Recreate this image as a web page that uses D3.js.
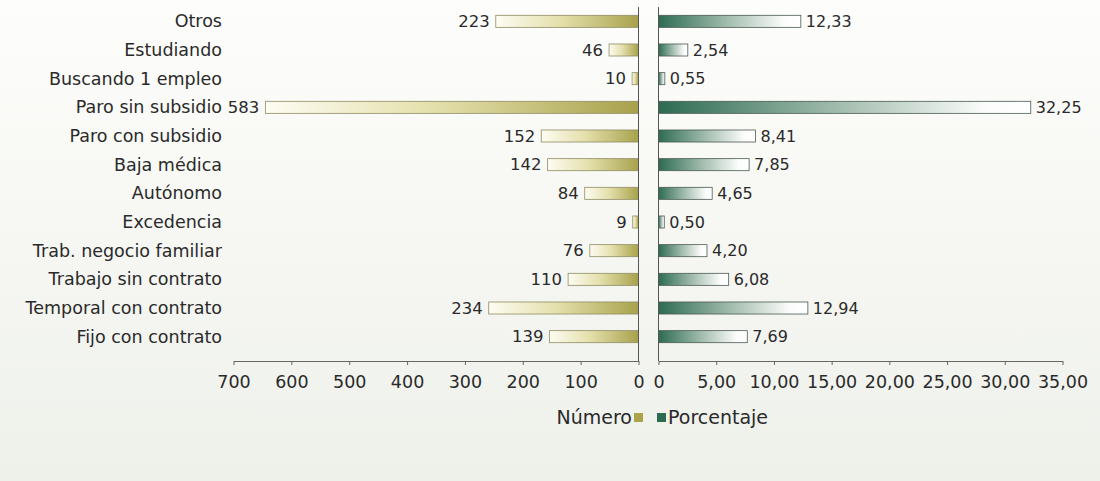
<!DOCTYPE html>
<html>
<head>
<meta charset="utf-8">
<script src="https://cdn.jsdelivr.net/npm/d3@7"></script>
<style>
  html, body { margin: 0; padding: 0; }
  body { width: 1100px; height: 481px; overflow: hidden; }
  svg text { font-family: 'DejaVu Sans', sans-serif; fill: #2a2a2a; }
</style>
</head>
<body>
<div id="chart"></div>
<script>
// categories, top to bottom
let categorias = ['Otros', 'Estudiando', 'Buscando 1 empleo', 'Paro sin subsidio', 'Paro con subsidio',
  'Baja médica', 'Autónomo', 'Excedencia', 'Trab. negocio familiar', 'Trabajo sin contrato',
  'Temporal con contrato', 'Fijo con contrato']

let numero = [223, 46, 10, 583, 152, 142, 84, 9, 76, 110, 234, 139]

let porcentaje = [12.33, 2.54, 0.55, 32.25, 8.41, 7.85, 4.65, 0.50, 4.20, 6.08, 12.94, 7.69]

let ticksNumero = [700, 600, 500, 400, 300, 200, 100, 0]
let ticksPorcentaje = [0, 5, 10, 15, 20, 25, 30, 35]

let width = 1100
let height = 481

let svg = d3
  .select('#chart')
  .append('svg')
  .attr('width', width)
  .attr('height', height)

let defs = svg.append('defs')

var bg = defs.append('linearGradient').attr('id', 'bg').attr('x1', 0).attr('y1', 0).attr('x2', 0).attr('y2', 1)
bg.append('stop').attr('offset', '0%').attr('stop-color', '#fdfdfb')
bg.append('stop').attr('offset', '45%').attr('stop-color', '#f7f8f4')
bg.append('stop').attr('offset', '100%').attr('stop-color', '#eef0ea')

var gOlive = defs.append('linearGradient').attr('id', 'olive')
gOlive.append('stop').attr('offset', '0%').attr('stop-color', '#fdfcf2')
gOlive.append('stop').attr('offset', '45%').attr('stop-color', '#e4e0ac')
gOlive.append('stop').attr('offset', '100%').attr('stop-color', '#a8a24c')

var gGreen = defs.append('linearGradient').attr('id', 'green')
gGreen.append('stop').attr('offset', '0%').attr('stop-color', '#2d6b52')
gGreen.append('stop').attr('offset', '50%').attr('stop-color', '#a6bfb1')
gGreen.append('stop').attr('offset', '88%').attr('stop-color', '#fbfcfb')
gGreen.append('stop').attr('offset', '100%').attr('stop-color', '#ffffff')

svg.append('rect').attr('width', width).attr('height', height).attr('fill', 'url(#bg)')

let rows = categorias.map(function(c, i) {
  return { cat: c, n: numero[i], pct: porcentaje[i] }
})

var yScale = d3.scaleBand()
  .domain(categorias)
  .range([7, 351])
  .paddingInner(0.58)
  .paddingOuter(0.29)

// left axis is labelled 0-700, right axis 0-35
var xNumAxis = d3.scaleLinear().domain([0, 700]).range([638.5, 233.5])
var xPct = d3.scaleLinear().domain([0, 35]).range([658.5, 1062.5])

// in the original the count bars mirror the percentage bars (same px per share of total)
var total = d3.sum(numero)
var xNumBar = d3.scaleLinear().domain([0, total * 35 / 100]).range([638.5, 233.5])

let axisY = 361

// category labels
svg.append('g')
  .selectAll('text')
  .data(rows)
  .enter()
  .append('text')
  .attr('x', 222)
  .attr('y', d => yScale(d.cat) + yScale.bandwidth() / 2)
  .attr('dy', '0.35em')
  .attr('text-anchor', 'end')
  .attr('font-size', 17.5)
  .text(d => d.cat)

// count bars
svg.append('g')
  .selectAll('rect')
  .data(rows)
  .enter()
  .append('rect')
  .attr('x', d => xNumBar(d.n))
  .attr('y', d => yScale(d.cat))
  .attr('width', d => xNumBar(0) - xNumBar(d.n))
  .attr('height', yScale.bandwidth())
  .attr('fill', 'url(#olive)')
  .attr('stroke', '#8f8c62')
  .attr('stroke-width', 0.8)

svg.append('g')
  .selectAll('text')
  .data(rows)
  .enter()
  .append('text')
  .attr('x', d => xNumBar(d.n) - 6)
  .attr('y', d => yScale(d.cat) + yScale.bandwidth() / 2)
  .attr('dy', '0.35em')
  .attr('text-anchor', 'end')
  .attr('font-size', 16.5)
  .text(d => d.n)

// percentage bars
svg.append('g')
  .selectAll('rect')
  .data(rows)
  .enter()
  .append('rect')
  .attr('x', xPct(0))
  .attr('y', d => yScale(d.cat))
  .attr('width', d => xPct(d.pct) - xPct(0))
  .attr('height', yScale.bandwidth())
  .attr('fill', 'url(#green)')
  .attr('stroke', '#4a5a52')
  .attr('stroke-width', 0.8)

var fmtPct = function(v) { return d3.format('.2f')(v).replace('.', ',') }

svg.append('g')
  .selectAll('text')
  .data(rows)
  .enter()
  .append('text')
  .attr('x', d => xPct(d.pct) + 5)
  .attr('y', d => yScale(d.cat) + yScale.bandwidth() / 2)
  .attr('dy', '0.35em')
  .attr('font-size', 16)
  .text(d => fmtPct(d.pct))

// vertical zero lines
svg.append('line')
  .attr('x1', xNumAxis(0)).attr('x2', xNumAxis(0))
  .attr('y1', 7).attr('y2', axisY)
  .attr('stroke', '#555').attr('stroke-width', 1)

svg.append('line')
  .attr('x1', xPct(0)).attr('x2', xPct(0))
  .attr('y1', 7).attr('y2', axisY)
  .attr('stroke', '#555').attr('stroke-width', 1)

// bottom axes
var leftAxis = d3.axisBottom(xNumAxis)
  .tickValues(ticksNumero)
  .tickSize(4)
  .tickSizeOuter(0)
  .tickPadding(11)

var rightAxis = d3.axisBottom(xPct)
  .tickValues(ticksPorcentaje)
  .tickSize(4)
  .tickSizeOuter(0)
  .tickPadding(11)
  .tickFormat(function(d) { return d === 0 ? '0' : fmtPct(d) })

svg.append('g')
  .attr('class', 'axis')
  .attr('transform', 'translate(0,' + axisY + ')')
  .call(leftAxis)

svg.append('g')
  .attr('class', 'axis')
  .attr('transform', 'translate(0,' + axisY + ')')
  .call(rightAxis)

svg.selectAll('.axis path').attr('stroke', '#666')
svg.selectAll('.axis line').attr('stroke', '#666')
svg.selectAll('.axis text')
  .attr('font-size', 17.5)
  .attr('font-family', 'DejaVu Sans, sans-serif')
  .attr('fill', '#2a2a2a')

// legend
let legendY = 417
svg.append('text')
  .attr('x', 632)
  .attr('y', legendY)
  .attr('dy', '0.35em')
  .attr('text-anchor', 'end')
  .attr('font-size', 19)
  .text('Número')

svg.append('rect')
  .attr('x', 634).attr('y', legendY - 4)
  .attr('width', 9).attr('height', 9)
  .attr('fill', '#a9a548')

svg.append('rect')
  .attr('x', 657).attr('y', legendY - 4)
  .attr('width', 9).attr('height', 9)
  .attr('fill', '#2f6a52')

svg.append('text')
  .attr('x', 668)
  .attr('y', legendY)
  .attr('dy', '0.35em')
  .attr('font-size', 19)
  .text('Porcentaje')
</script>
</body>
</html>
